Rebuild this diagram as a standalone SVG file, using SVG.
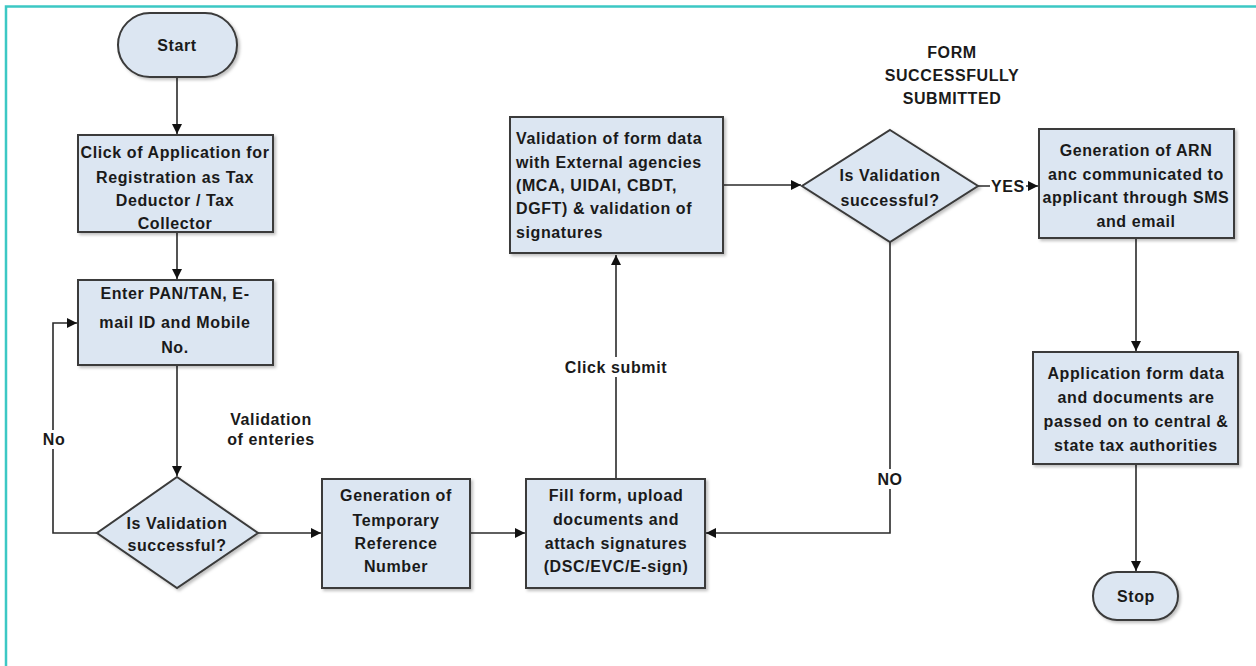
<svg xmlns="http://www.w3.org/2000/svg" width="1256" height="666" viewBox="0 0 1256 666">
<defs>
<marker id="ah" viewBox="0 0 10 10" refX="10" refY="5" markerWidth="10" markerHeight="10" markerUnits="userSpaceOnUse" orient="auto">
<path d="M0,0 L10,5 L0,10 z" fill="#111"/>
</marker>
<filter id="sh" x="-10%" y="-10%" width="130%" height="130%">
<feDropShadow dx="2" dy="2" stdDeviation="1.5" flood-color="#000" flood-opacity="0.25"/>
</filter>
</defs>
<style>
.n{fill:#dce6f2;stroke:#3a3a3a;stroke-width:2;filter:url(#sh)}
.t{font-family:"Liberation Sans",Arial,sans-serif;font-weight:bold;font-size:16px;letter-spacing:0.6px;fill:#1a1a1a;text-anchor:middle}
.l{text-anchor:start}
.c{fill:none;stroke:#2a2a2a;stroke-width:1.6}
.lb{fill:#fff}
</style>
<rect x="0" y="0" width="1256" height="666" fill="#fff"/>
<path d="M6,666 V6.5 H1256" fill="none" stroke="#3cc8c4" stroke-width="2.5"/>

<g id="connectors">
<path class="c" d="M177,77 V134" marker-end="url(#ah)"/>
<path class="c" d="M177,232 V279" marker-end="url(#ah)"/>
<path class="c" d="M177,365 V476" marker-end="url(#ah)"/>
<path class="c" d="M97,533 H53 V323 H77" marker-end="url(#ah)"/>
<path class="c" d="M258,533 H321" marker-end="url(#ah)"/>
<path class="c" d="M470,533 H525" marker-end="url(#ah)"/>
<path class="c" d="M616,479 V255" marker-end="url(#ah)"/>
<path class="c" d="M723,185 H801" marker-end="url(#ah)"/>
<path class="c" d="M978,186 H1038" marker-end="url(#ah)"/>
<path class="c" d="M890,242 V533 H706" marker-end="url(#ah)"/>
<path class="c" d="M1136,238 V351" marker-end="url(#ah)"/>
<path class="c" d="M1136,464 V571" marker-end="url(#ah)"/>
<rect class="lb" x="41" y="430" width="26" height="19"/>
<text class="t" x="54" y="445">No</text>
<rect class="lb" x="562" y="357" width="108" height="20"/>
<text class="t" x="616" y="373">Click submit</text>
<rect class="lb" x="990" y="176" width="36" height="20"/>
<text class="t" x="1008" y="192">YES</text>
<rect class="lb" x="875" y="469" width="30" height="20"/>
<text class="t" x="890" y="485">NO</text>
</g>

<g id="start">
<rect class="n" x="118" y="13" width="119" height="64" rx="32" ry="32"/>
<text class="t" x="177" y="51">Start</text>
</g>

<g id="apply">
<rect class="n" x="78" y="135" width="195" height="97"/>
<text class="t" x="175" y="158">Click of Application for</text>
<text class="t" x="175" y="183">Registration as Tax</text>
<text class="t" x="175" y="206">Deductor / Tax</text>
<text class="t" x="175" y="229">Collector</text>
</g>

<g id="enter">
<rect class="n" x="78" y="280" width="195" height="85"/>
<text class="t" x="175" y="299">Enter PAN/TAN, E-</text>
<text class="t" x="175" y="328">mail ID and Mobile</text>
<text class="t" x="175" y="353">No.</text>
</g>

<g id="validation-note">
<text class="t" x="271" y="425">Validation</text>
<text class="t" x="271" y="445">of enteries</text>
</g>

<g id="decision1">
<polygon class="n" points="177,477 258,533 177,588 97,533"/>
<text class="t" x="177" y="529">Is Validation</text>
<text class="t" x="177" y="551">successful?</text>
</g>

<g id="trn">
<rect class="n" x="322" y="479" width="148" height="109"/>
<text class="t" x="396" y="501">Generation of</text>
<text class="t" x="396" y="526">Temporary</text>
<text class="t" x="396" y="549">Reference</text>
<text class="t" x="396" y="572">Number</text>
</g>

<g id="fillform">
<rect class="n" x="526" y="479" width="179" height="109"/>
<text class="t" x="616" y="501">Fill form, upload</text>
<text class="t" x="616" y="525">documents and</text>
<text class="t" x="616" y="549">attach signatures</text>
<text class="t" x="616" y="572">(DSC/EVC/E-sign)</text>
</g>

<g id="external">
<rect class="n" x="510" y="117" width="213" height="136"/>
<text class="t l" x="516" y="144">Validation of form data</text>
<text class="t l" x="516" y="168">with External agencies</text>
<text class="t l" x="516" y="191">(MCA, UIDAI, CBDT,</text>
<text class="t l" x="516" y="214">DGFT) &amp; validation of</text>
<text class="t l" x="516" y="238">signatures</text>
</g>

<g id="form-note">
<text class="t" x="952" y="58">FORM</text>
<text class="t" x="952" y="81">SUCCESSFULLY</text>
<text class="t" x="952" y="104">SUBMITTED</text>
</g>

<g id="decision2">
<polygon class="n" points="890,130 978,186 890,242 802,186"/>
<text class="t" x="890" y="181">Is Validation</text>
<text class="t" x="890" y="206">successful?</text>
</g>

<g id="arn">
<rect class="n" x="1039" y="129" width="195" height="109"/>
<text class="t" x="1136" y="156">Generation of ARN</text>
<text class="t" x="1136" y="180">anc communicated to</text>
<text class="t" x="1136" y="203">applicant through SMS</text>
<text class="t" x="1136" y="227">and email</text>
</g>

<g id="passed">
<rect class="n" x="1033" y="352" width="205" height="112"/>
<text class="t" x="1136" y="379">Application form data</text>
<text class="t" x="1136" y="403">and documents are</text>
<text class="t" x="1136" y="427">passed on to central &amp;</text>
<text class="t" x="1136" y="451">state tax authorities</text>
</g>

<g id="stop">
<rect class="n" x="1093" y="572" width="85" height="48" rx="24" ry="24"/>
<text class="t" x="1136" y="602">Stop</text>
</g>
</svg>
